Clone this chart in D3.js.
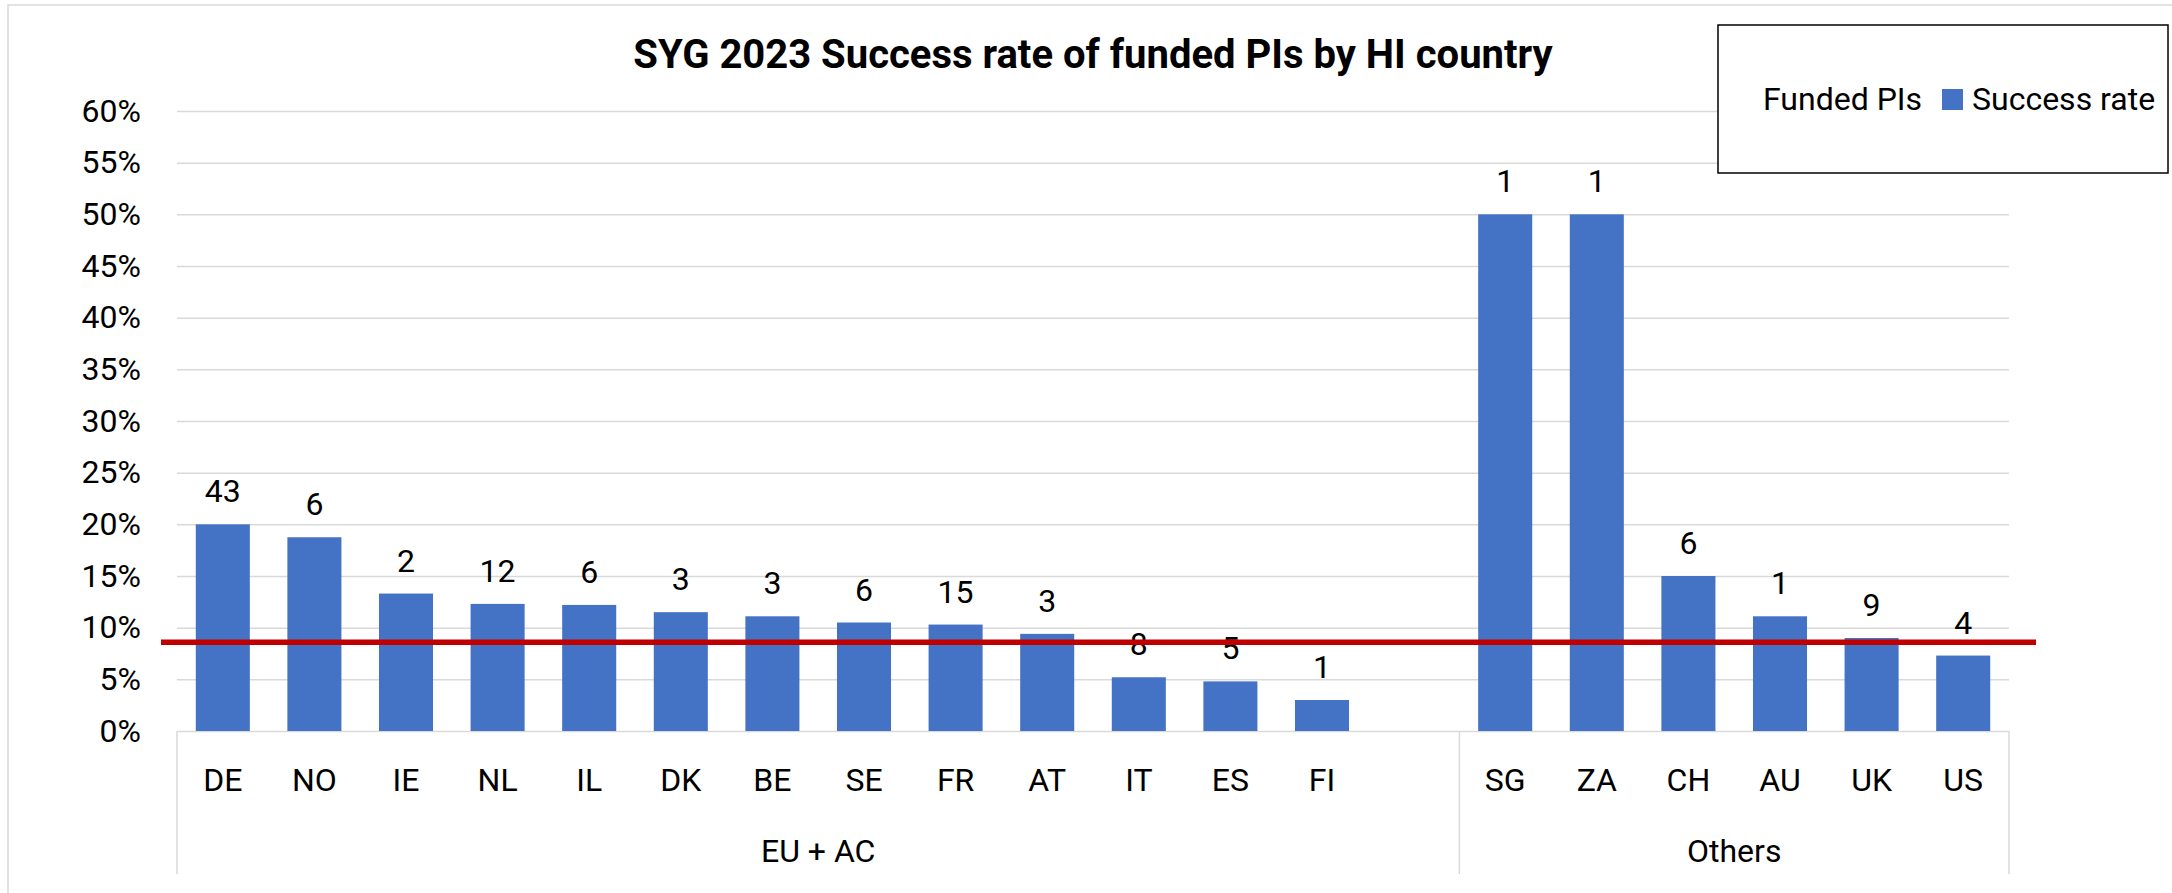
<!DOCTYPE html>
<html>
<head>
<meta charset="utf-8">
<script src="https://cdn.jsdelivr.net/npm/d3@7/dist/d3.min.js"></script>
<style>
  html, body { margin: 0; padding: 0; background: #ffffff; }
  svg { display: block; }
  text { font-family: Roboto, "Liberation Sans", sans-serif; fill: #000; }
</style>
</head>
<body>
<svg id="chart" width="2172" height="893"></svg>
<script>
// ---- data ----
const title = "SYG 2023 Success rate of funded PIs by HI country";
const countries = ["DE","NO","IE","NL","IL","DK","BE","SE","FR","AT","IT","ES","FI","SG","ZA","CH","AU","UK","US"];
const countryGroup = ["EU + AC","EU + AC","EU + AC","EU + AC","EU + AC","EU + AC","EU + AC","EU + AC","EU + AC","EU + AC","EU + AC","EU + AC","EU + AC",
                      "Others","Others","Others","Others","Others","Others"];
const successRate = [0.20, 0.1875, 0.133, 0.123, 0.122, 0.115, 0.111, 0.105, 0.103, 0.094, 0.052, 0.048, 0.030,
                     0.50, 0.50, 0.15, 0.111, 0.09, 0.073];
const fundedPIs = [43, 6, 2, 12, 6, 3, 3, 6, 15, 3, 8, 5, 1,
                   1, 1, 6, 1, 9, 4];
const groupNames = ["EU + AC", "Others"];
const groupSlots = [14, 6];          // EU + AC has one empty slot after FI
const averageRate = 0.086;           // red reference line
const yTicks = [0, 0.05, 0.10, 0.15, 0.20, 0.25, 0.30, 0.35, 0.40, 0.45, 0.50, 0.55, 0.60];
const legendLabels = ["Funded PIs", "Success rate"];

// ---- layout ----
const svg = d3.select("#chart");
const plotLeft = 177, plotRight = 2009, plotTop = 111, plotBottom = 731;
const barColor = "#4472C4";
const gridColor = "#d9d9d9";
const fontSize = 32;

// outer chart border (top and left visible)
svg.append("rect")
  .attr("x", 8).attr("y", 5)
  .attr("width", 2200).attr("height", 950)
  .attr("fill", "none").attr("stroke", gridColor).attr("stroke-width", 1.5);

// slot index for each country
let cum = [0];
groupSlots.forEach((s, i) => cum.push(cum[i] + s));
const slotIndex = countries.map((c, i) => {
  const g = groupNames.indexOf(countryGroup[i]);
  const within = countries.slice(0, i).filter((_, j) => countryGroup[j] === countryGroup[i]).length;
  return cum[g] + within;
});

const x = d3.scaleLinear().domain([0, cum[cum.length - 1]]).range([plotLeft, plotRight]);
const y = d3.scaleLinear().domain([0, 0.6]).range([plotBottom, plotTop]);

// y axis with gridlines
const yAxis = svg.append("g")
  .attr("transform", `translate(${plotLeft},0)`)
  .call(d3.axisLeft(y).tickValues(yTicks).tickFormat(d3.format(".0%"))
        .tickSize(-(plotRight - plotLeft)).tickPadding(36));
yAxis.select(".domain").remove();
yAxis.selectAll(".tick line").attr("stroke", gridColor).attr("stroke-width", 1.5);
yAxis.selectAll(".tick text")
  .attr("font-size", fontSize).attr("font-family", "Roboto, sans-serif").attr("fill", "#000");

// category axis vertical separators
const tickBottom = 874;
svg.append("g").selectAll("line")
  .data(cum)
  .join("line")
  .attr("x1", d => x(d)).attr("x2", d => x(d))
  .attr("y1", plotBottom).attr("y2", tickBottom)
  .attr("stroke", gridColor).attr("stroke-width", 1.5);

// bars
const barFrac = 0.59;
svg.append("g").selectAll("rect")
  .data(countries)
  .join("rect")
  .attr("x", (d, i) => x(slotIndex[i] + (1 - barFrac) / 2))
  .attr("width", (d, i) => x(slotIndex[i] + (1 + barFrac) / 2) - x(slotIndex[i] + (1 - barFrac) / 2))
  .attr("y", (d, i) => y(successRate[i]))
  .attr("height", (d, i) => y(0) - y(successRate[i]))
  .attr("fill", barColor);

// data labels (funded PIs)
svg.append("g").selectAll("text")
  .data(countries)
  .join("text")
  .attr("x", (d, i) => x(slotIndex[i] + 0.5))
  .attr("y", (d, i) => y(successRate[i]) - 22)
  .attr("text-anchor", "middle")
  .attr("font-size", fontSize)
  .text((d, i) => fundedPIs[i]);

// red average line
svg.append("line")
  .attr("x1", plotLeft - 16).attr("x2", plotRight + 27)
  .attr("y1", y(averageRate)).attr("y2", y(averageRate))
  .attr("stroke", "#c00000").attr("stroke-width", 5.5);

// category labels
svg.append("g").selectAll("text")
  .data(countries)
  .join("text")
  .attr("x", (d, i) => x(slotIndex[i] + 0.5))
  .attr("y", 791)
  .attr("text-anchor", "middle")
  .attr("font-size", fontSize)
  .text(d => d);

// group labels
svg.append("g").selectAll("text")
  .data(groupNames)
  .join("text")
  .attr("x", (d, i) => (x(cum[i]) + x(cum[i + 1])) / 2)
  .attr("y", 862)
  .attr("text-anchor", "middle")
  .attr("font-size", fontSize)
  .text(d => d);

// title
svg.append("text")
  .attr("x", 1093).attr("y", 68)
  .attr("text-anchor", "middle")
  .attr("font-size", 40).attr("font-weight", "bold")
  .text(title);

// legend
const lg = svg.append("g");
lg.append("rect")
  .attr("x", 1718).attr("y", 25).attr("width", 450).attr("height", 148)
  .attr("fill", "#fff").attr("stroke", "#000").attr("stroke-width", 1.5);
lg.append("text")
  .attr("x", 1763).attr("y", 110)
  .attr("font-size", fontSize)
  .text(legendLabels[0]);
lg.append("rect")
  .attr("x", 1942).attr("y", 89).attr("width", 21).attr("height", 21)
  .attr("fill", barColor);
lg.append("text")
  .attr("x", 1972).attr("y", 110)
  .attr("font-size", fontSize)
  .text(legendLabels[1]);
</script>
</body>
</html>
